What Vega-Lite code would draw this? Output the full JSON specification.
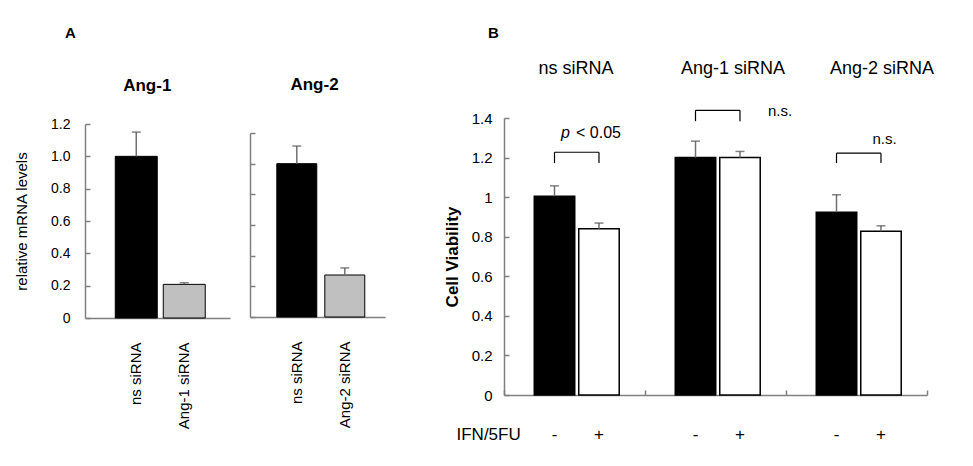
{
  "$schema": "https://vega.github.io/schema/vega-lite/v6.json",
  "background": "white",
  "padding": {"left": 14, "top": 26, "right": 0, "bottom": 0},
  "config": {
    "font": "Liberation Sans",
    "view": {"stroke": null},
    "axis": {"grid": false, "labelColor": "black", "titleColor": "black", "domainColor": "#808080", "domainWidth": 1.5, "tickColor": "#808080", "tickWidth": 1.5, "labelOverlap": false},
    "title": {"color": "black"}
  },
  "datasets": {
    "mrna": [
      {"panel": "Ang-1", "sirna": "ns siRNA", "level": 1.0, "upper": 1.15},
      {"panel": "Ang-1", "sirna": "Ang-1 siRNA", "level": 0.208, "upper": 0.218},
      {"panel": "Ang-2", "sirna": "ns siRNA", "level": 1.0, "upper": 1.115},
      {"panel": "Ang-2", "sirna": "Ang-2 siRNA", "level": 0.274, "upper": 0.32}
    ],
    "viability": [
      {"group": "ns siRNA", "treatment": "-", "viability": 1.005, "upper": 1.057},
      {"group": "ns siRNA", "treatment": "+", "viability": 0.84, "upper": 0.869},
      {"group": "Ang-1 siRNA", "treatment": "-", "viability": 1.2, "upper": 1.283},
      {"group": "Ang-1 siRNA", "treatment": "+", "viability": 1.2, "upper": 1.231},
      {"group": "Ang-2 siRNA", "treatment": "-", "viability": 0.924, "upper": 1.012},
      {"group": "Ang-2 siRNA", "treatment": "+", "viability": 0.827, "upper": 0.855}
    ]
  },
  "bounds": "flush",
  "spacing": 20,
  "hconcat": [
    {
      "width": 145,
      "height": 200,
      "title": {"text": "A", "anchor": "start", "frame": "group", "fontSize": 15, "fontWeight": "bold", "dx": -20, "offset": 36},
      "data": {"name": "mrna"},
      "transform": [{"filter": "datum.panel == 'Ang-1'"}],
      "encoding": {
        "x": {"field": "sirna", "type": "nominal", "sort": null,
          "scale": {"paddingInner": 0.125, "paddingOuter": 0.573, "align": 0.55},
          "axis": {"title": null, "labelAngle": -90, "labelFontSize": 15, "labelPadding": 24, "ticks": false}}
      },
      "layer": [
        {
          "mark": {"type": "bar", "stroke": "black", "strokeWidth": 1},
          "encoding": {
            "y": {"field": "level", "type": "quantitative", "title": "relative mRNA levels",
              "scale": {"domain": [0, 1.2], "range": [200, 6]},
              "axis": {"values": [0, 0.2, 0.4, 0.6, 0.8, 1.0, 1.2], "tickCount": 20, "labelExpr": "datum.value == 0 ? '0' : format(datum.value, '.1f')",
                "labelFontSize": 14, "ticks": false, "grid": true, "gridDash": [5, 3000], "gridColor": "#808080", "gridWidth": 1.5,
                "labelPadding": 15, "titleFontSize": 15, "titleFontWeight": "normal", "titlePadding": 21}},
            "fill": {"condition": {"test": "datum.sirna == 'ns siRNA'", "value": "black"}, "value": "#c0c0c0"}
          }
        },
        {
          "mark": {"type": "rule", "color": "#707070", "strokeWidth": 1.5},
          "encoding": {
            "y": {"field": "level", "type": "quantitative", "title": "relative mRNA levels"},
            "y2": {"field": "upper"}
          }
        },
        {
          "mark": {"type": "tick", "color": "#505050", "thickness": 1.5, "size": 9},
          "encoding": {"y": {"field": "upper", "type": "quantitative", "title": "relative mRNA levels"}}
        },
        {
          "transform": [{"filter": "datum.sirna == 'ns siRNA'"}],
          "mark": {"type": "text", "fontSize": 17, "fontWeight": "bold", "color": "black", "baseline": "middle", "dx": 11},
          "encoding": {"y": {"datum": 1.435}, "text": {"value": "Ang-1"}}
        }
      ]
    },
    {
      "width": 234,
      "height": 199,
      "title": {"text": "Ang-2", "fontSize": 17, "fontWeight": "bold", "anchor": "middle", "frame": "group", "dx": -52.5, "offset": 24},
      "data": {"name": "mrna"},
      "transform": [{"filter": "datum.panel == 'Ang-2'"}],
      "encoding": {
        "x": {"field": "sirna", "type": "nominal", "sort": null,
          "scale": {"range": [0, 135], "paddingInner": 0.167, "paddingOuter": 0.49, "align": 0.57},
          "axis": {"title": null, "labelAngle": -90, "labelFontSize": 15, "labelPadding": 24, "ticks": false}}
      },
      "layer": [
        {
          "mark": {"type": "bar", "stroke": "black", "strokeWidth": 1},
          "encoding": {
            "y": {"field": "level", "type": "quantitative", "title": null,
              "scale": {"domain": [0, 1.2], "range": [199, 15]},
              "axis": {"values": [0, 0.2, 0.4, 0.6, 0.8, 1.0, 1.2], "tickCount": 20, "labels": false, "ticks": false,
                "grid": true, "gridDash": [5, 3000], "gridColor": "#808080", "gridWidth": 1.5}},
            "fill": {"condition": {"test": "datum.sirna == 'ns siRNA'", "value": "black"}, "value": "#c0c0c0"}
          }
        },
        {
          "mark": {"type": "rule", "color": "#707070", "strokeWidth": 1.5},
          "encoding": {
            "y": {"field": "level", "type": "quantitative", "title": null},
            "y2": {"field": "upper"}
          }
        },
        {
          "mark": {"type": "tick", "color": "#505050", "thickness": 1.5, "size": 9},
          "encoding": {"y": {"field": "upper", "type": "quantitative", "title": null}}
        }
      ]
    },
    {
      "width": 423,
      "height": 277,
      "title": {"text": "B", "anchor": "start", "frame": "group", "fontSize": 15, "fontWeight": "bold", "dx": -16, "offset": 19},
      "data": {"name": "viability"},
      "layer": [
        {
          "mark": {"type": "bar", "stroke": "black", "strokeWidth": 1.5},
          "encoding": {
            "x": {"field": "group", "type": "nominal", "sort": null,
              "scale": {"paddingInner": 0, "paddingOuter": 0},
              "axis": {"labels": false, "title": "IFN/5FU", "tickBand": "extent", "ticks": false,
                "grid": true, "gridDash": [0, 272, 5, 3000], "gridColor": "#808080", "gridWidth": 1.5,
                "titleX": -48, "titleY": 39, "titleAlign": "left", "titleBaseline": "middle", "titleFontSize": 17, "titleFontWeight": "normal"}},
            "xOffset": {"field": "treatment", "type": "nominal", "sort": null,
              "scale": {"paddingInner": 0.09, "paddingOuter": 0.63, "align": 0.54}},
            "y": {"field": "viability", "type": "quantitative", "title": "Cell Viability",
              "scale": {"domain": [0, 1.4]},
              "axis": {"values": [0, 0.2, 0.4, 0.6, 0.8, 1, 1.2, 1.4], "tickCount": 20, "format": ".1~f", "labelFontSize": 15, "ticks": false,
                "grid": true, "gridDash": [5, 3000], "gridColor": "#808080", "gridWidth": 1.5, "labelPadding": 12,
                "titleFontSize": 17, "titleFontWeight": "bold", "titlePadding": 10}},
            "fill": {"condition": {"test": "datum.treatment == '-'", "value": "black"}, "value": "white"}
          }
        },
        {
          "mark": {"type": "rule", "color": "#707070", "strokeWidth": 1.5},
          "encoding": {
            "x": {"field": "group", "type": "nominal", "sort": null},
            "xOffset": {"field": "treatment", "type": "nominal", "sort": null},
            "y": {"field": "viability", "type": "quantitative", "title": "Cell Viability"},
            "y2": {"field": "upper"}
          }
        },
        {
          "mark": {"type": "tick", "color": "#505050", "thickness": 1.5, "size": 9},
          "encoding": {
            "x": {"field": "group", "type": "nominal", "sort": null},
            "xOffset": {"field": "treatment", "type": "nominal", "sort": null},
            "y": {"field": "upper", "type": "quantitative", "title": "Cell Viability"}
          }
        },
        {
          "mark": {"type": "text", "fontSize": 17, "color": "black", "baseline": "middle"},
          "encoding": {
            "x": {"field": "group", "type": "nominal", "sort": null},
            "xOffset": {"field": "treatment", "type": "nominal", "sort": null},
            "y": {"datum": -0.2},
            "text": {"field": "treatment"}
          }
        },
        {
          "transform": [{"filter": "datum.group == 'ns siRNA' && datum.treatment == '-'"}],
          "mark": {"type": "text", "fontSize": 18, "color": "black", "baseline": "middle", "dx": 1.5},
          "encoding": {"x": {"field": "group", "type": "nominal", "sort": null}, "y": {"datum": 1.646}, "text": {"field": "group"}}
        },
        {
          "transform": [{"filter": "datum.group == 'Ang-1 siRNA' && datum.treatment == '-'"}],
          "mark": {"type": "text", "fontSize": 18, "color": "black", "baseline": "middle", "dx": 17.5},
          "encoding": {"x": {"field": "group", "type": "nominal", "sort": null}, "y": {"datum": 1.646}, "text": {"field": "group"}}
        },
        {
          "transform": [{"filter": "datum.group == 'Ang-2 siRNA' && datum.treatment == '-'"}],
          "mark": {"type": "text", "fontSize": 18, "color": "black", "baseline": "middle", "dx": 25.5},
          "encoding": {"x": {"field": "group", "type": "nominal", "sort": null}, "y": {"datum": 1.646}, "text": {"field": "group"}}
        },
        {
          "transform": [{"filter": "datum.group == 'ns siRNA'"}],
          "mark": {"type": "rule", "color": "black", "strokeWidth": 1.2},
          "encoding": {
            "x": {"field": "group", "type": "nominal", "sort": null},
            "xOffset": {"field": "treatment", "type": "nominal", "sort": null},
            "y": {"datum": 1.172}, "y2": {"datum": 1.227}
          }
        },
        {
          "transform": [{"filter": "datum.group == 'ns siRNA'"}],
          "mark": {"type": "line", "color": "black", "strokeWidth": 1.2},
          "encoding": {
            "x": {"field": "group", "type": "nominal", "sort": null},
            "xOffset": {"field": "treatment", "type": "nominal", "sort": null},
            "y": {"datum": 1.227}
          }
        },
        {
          "transform": [{"filter": "datum.group == 'Ang-1 siRNA'"}],
          "mark": {"type": "rule", "color": "black", "strokeWidth": 1.2},
          "encoding": {
            "x": {"field": "group", "type": "nominal", "sort": null},
            "xOffset": {"field": "treatment", "type": "nominal", "sort": null},
            "y": {"datum": 1.384}, "y2": {"datum": 1.439}
          }
        },
        {
          "transform": [{"filter": "datum.group == 'Ang-1 siRNA'"}],
          "mark": {"type": "line", "color": "black", "strokeWidth": 1.2},
          "encoding": {
            "x": {"field": "group", "type": "nominal", "sort": null},
            "xOffset": {"field": "treatment", "type": "nominal", "sort": null},
            "y": {"datum": 1.439}
          }
        },
        {
          "transform": [{"filter": "datum.group == 'Ang-2 siRNA'"}],
          "mark": {"type": "rule", "color": "black", "strokeWidth": 1.2},
          "encoding": {
            "x": {"field": "group", "type": "nominal", "sort": null},
            "xOffset": {"field": "treatment", "type": "nominal", "sort": null},
            "y": {"datum": 1.172}, "y2": {"datum": 1.222}
          }
        },
        {
          "transform": [{"filter": "datum.group == 'Ang-2 siRNA'"}],
          "mark": {"type": "line", "color": "black", "strokeWidth": 1.2},
          "encoding": {
            "x": {"field": "group", "type": "nominal", "sort": null},
            "xOffset": {"field": "treatment", "type": "nominal", "sort": null},
            "y": {"datum": 1.222}
          }
        },
        {
          "transform": [{"filter": "datum.group == 'ns siRNA' && datum.treatment == '-'"}],
          "mark": {"type": "text", "fontSize": 16, "fontStyle": "italic", "color": "black", "baseline": "middle", "align": "right", "dx": -4.5},
          "encoding": {"x": {"field": "group", "type": "nominal", "sort": null}, "y": {"datum": 1.323}, "text": {"value": "p"}}
        },
        {
          "transform": [{"filter": "datum.group == 'ns siRNA' && datum.treatment == '-'"}],
          "mark": {"type": "text", "fontSize": 16, "color": "black", "baseline": "middle", "align": "left", "dx": 1.5},
          "encoding": {"x": {"field": "group", "type": "nominal", "sort": null}, "y": {"datum": 1.323}, "text": {"value": "< 0.05"}}
        },
        {
          "transform": [{"filter": "datum.group == 'Ang-1 siRNA' && datum.treatment == '+'"}],
          "mark": {"type": "text", "fontSize": 15, "color": "black", "baseline": "middle", "align": "left", "dx": 28},
          "encoding": {
            "x": {"field": "group", "type": "nominal", "sort": null},
            "xOffset": {"field": "treatment", "type": "nominal", "sort": null},
            "y": {"datum": 1.434}, "text": {"value": "n.s."}}
        },
        {
          "transform": [{"filter": "datum.group == 'Ang-2 siRNA' && datum.treatment == '-'"}],
          "mark": {"type": "text", "fontSize": 15, "color": "black", "baseline": "middle", "align": "center", "dx": 28},
          "encoding": {"x": {"field": "group", "type": "nominal", "sort": null}, "y": {"datum": 1.293}, "text": {"value": "n.s."}}
        }
      ]
    }
  ]
}
